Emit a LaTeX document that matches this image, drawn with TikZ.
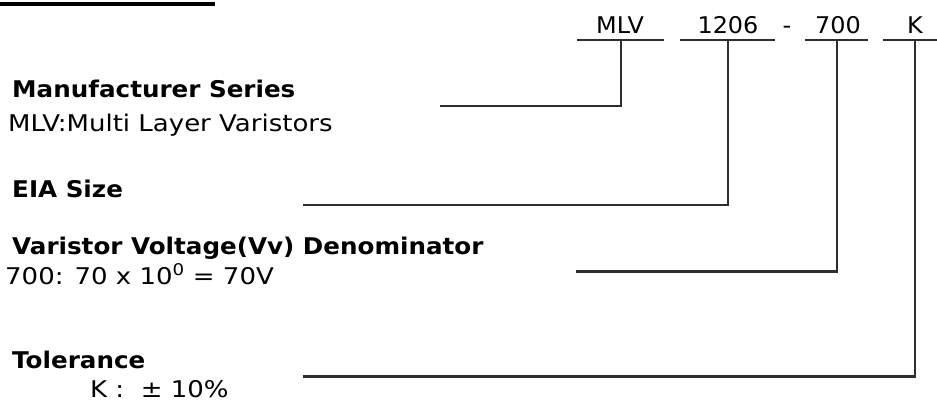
\documentclass[tikz,border=0pt]{standalone}
\usepackage{fontspec}
\setmainfont{DejaVu Sans}
\newfontfamily\bodyfont{DejaVu Sans}[FakeStretch=1.13]
\newfontfamily\hdfont{DejaVu Sans}[FakeStretch=1.07]
\newfontfamily\codefont{DejaVu Sans}[FakeStretch=1.04]
\definecolor{linegray}{HTML}{2E2E2E}
\begin{document}
\begin{tikzpicture}[x=1pt,y=-1pt,
  lbl/.style={inner sep=0pt, anchor=base west, font=\bodyfont\fontsize{23}{27}\selectfont},
  hd/.style={inner sep=0pt, anchor=base west, font=\hdfont\bfseries\fontsize{23}{27}\selectfont},
  code/.style={inner sep=0pt, anchor=base, font=\codefont\fontsize{23}{27}\selectfont},
  conn/.style={draw=linegray, line width=2.2pt}]
\useasboundingbox (0,0) rectangle (937,403);
% cut-off title underline
\fill (0,2) rectangle (215,6);
% code labels
\node[code] (cMLV) at (620,34) {MLV};
\node[code] (c1206) at (728,34) {1206};
\node[code] (cdash) at (787,34) {-};
\node[code] (c700) at (838,34) {700};
\node[code] (cK) at (915,34) {K};
% underline coordinates
\coordinate (uMLVa) at (577,40); \coordinate (uMLVb) at (664,40); \coordinate (uMLV) at (621,40);
\coordinate (u1206a) at (680,40); \coordinate (u1206b) at (775,40); \coordinate (u1206) at (728,40);
\coordinate (u700a) at (805,40); \coordinate (u700b) at (868,40); \coordinate (u700) at (837,40);
\coordinate (uKa) at (883,40); \coordinate (uKb) at (937,40); \coordinate (uK) at (915,40);
\draw[conn] (uMLVa) -- (uMLVb);
\draw[conn] (u1206a) -- (u1206b);
\draw[conn] (u700a) -- (u700b);
\draw[conn] (uKa) -- (uKb);
% descriptions
\node[hd] (mfg) at (12,98) {Manufacturer Series};
\node[lbl] (mfgd) at (8,132) {MLV:Multi Layer Varistors};
\node[hd] (eia) at (12,198) {EIA Size};
\node[hd] (vv) at (12,255) {Varistor Voltage(Vv) Denominator};
\node[lbl] (vvd) at (5,285) {700: 70 x 10\textsuperscript{0} = 70V};
\node[hd] (tol) at (12,368) {Tolerance};
\node[lbl] (told) at (90,397) {K :\ \ ± 10\%};
% connector start and elbow points
\coordinate (sMLV) at (440,106); \coordinate (eMLV) at (621,106);
\coordinate (s1206) at (303,205); \coordinate (e1206) at (728,205);
\coordinate (s700) at (576,271.5); \coordinate (e700) at (837,271.5);
\coordinate (sK) at (303,376.5); \coordinate (eK) at (915,376.5);
\draw[conn] (sMLV) -- (eMLV) -- (uMLV);
\draw[conn] (s1206) -- (e1206) -- (u1206);
\draw[conn] (s700) -- (e700) -- (u700);
\draw[conn] (sK) -- (eK) -- (uK);
\end{tikzpicture}
\end{document}
